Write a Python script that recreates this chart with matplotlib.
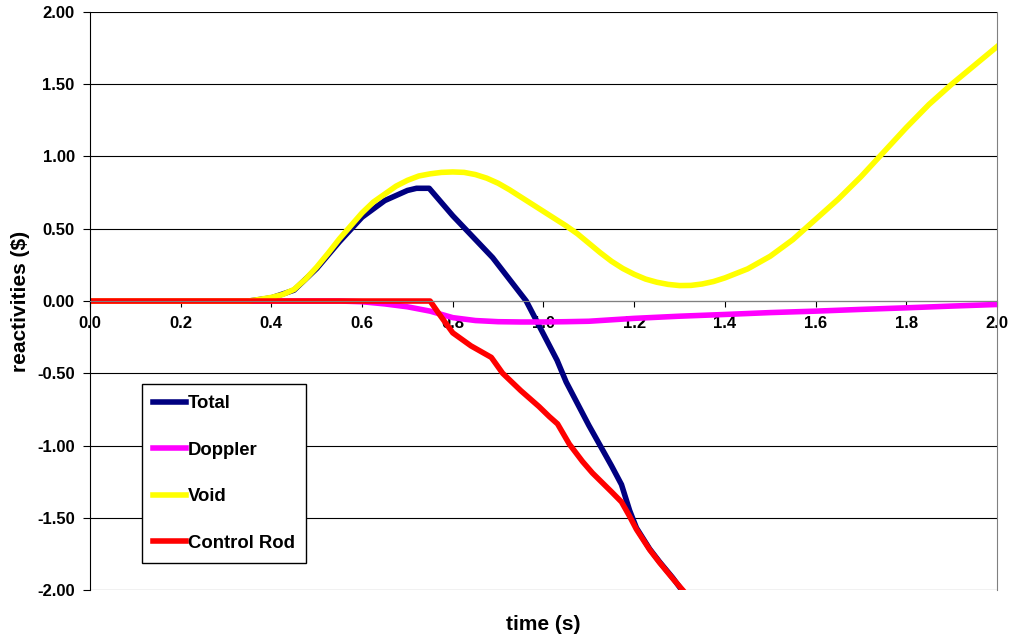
import matplotlib
matplotlib.use("Agg")
import matplotlib.pyplot as plt
from matplotlib.ticker import FormatStrFormatter

plt.rcParams['font.family'] = ['Liberation Sans', 'DejaVu Sans']
plt.rcParams['font.weight'] = 'bold'

######## data

# Void reactivity
t_void = [0.0, 0.35, 0.375, 0.4, 0.425, 0.45, 0.475, 0.5, 0.525, 0.55, 0.575,
          0.6, 0.625, 0.65, 0.675, 0.7, 0.725, 0.75, 0.775, 0.8, 0.825, 0.85,
          0.875, 0.9, 0.925, 0.95, 0.975, 1.0, 1.025, 1.05, 1.075, 1.1, 1.125,
          1.15, 1.175, 1.2, 1.225, 1.25, 1.275, 1.3, 1.325, 1.35, 1.375, 1.4,
          1.45, 1.5, 1.55, 1.6, 1.65, 1.7, 1.75, 1.8, 1.85, 1.9, 1.95, 2.0]
void = [0.0, 0.0, 0.012, 0.025, 0.045, 0.08, 0.15, 0.235, 0.33, 0.43, 0.52,
        0.61, 0.685, 0.74, 0.795, 0.835, 0.865, 0.88, 0.89, 0.893, 0.89, 0.875,
        0.85, 0.815, 0.77, 0.72, 0.67, 0.62, 0.57, 0.52, 0.465, 0.40, 0.335,
        0.275, 0.225, 0.185, 0.152, 0.13, 0.115, 0.107, 0.108, 0.118, 0.135, 0.16,
        0.222, 0.31, 0.425, 0.565, 0.705, 0.86, 1.03, 1.20, 1.36, 1.50, 1.63, 1.76]

# Doppler reactivity
t_doppler = [0.0, 0.55, 0.6, 0.65, 0.7, 0.75, 0.8, 0.85, 0.9, 0.95, 1.0, 1.05,
             1.1, 1.15, 1.2, 1.3, 1.4, 1.5, 1.6, 1.7, 1.8, 1.9, 2.0]
doppler = [0.0, 0.0, -0.005, -0.02, -0.04, -0.07, -0.115, -0.135, -0.143,
           -0.145, -0.145, -0.143, -0.14, -0.13, -0.12, -0.105, -0.093, -0.08,
           -0.07, -0.058, -0.047, -0.035, -0.024]

# Control rod reactivity
t_rod = [0.0, 0.75, 0.77, 0.80, 0.84, 0.885, 0.91, 0.95, 0.99, 1.013, 1.031,
         1.057, 1.086, 1.108, 1.15, 1.172, 1.19, 1.205, 1.234, 1.256, 1.285, 1.307]
rod = [0.0, 0.0, -0.09, -0.22, -0.31, -0.39, -0.50, -0.62, -0.73, -0.80, -0.85,
       -0.99, -1.11, -1.19, -1.32, -1.39, -1.49, -1.58, -1.72, -1.81, -1.92, -2.0]

# Total reactivity
t_total = [0.0, 0.35, 0.4, 0.45, 0.5, 0.55, 0.6, 0.65, 0.7, 0.72, 0.748, 0.8,
           0.888, 0.962, 1.03, 1.05, 1.10, 1.15, 1.172, 1.19, 1.205, 1.234,
           1.256, 1.285, 1.305]
total = [0.0, 0.0, 0.022, 0.075, 0.225, 0.41, 0.58, 0.695, 0.765, 0.78, 0.78,
         0.59, 0.30, 0.0, -0.41, -0.56, -0.86, -1.14, -1.27, -1.45, -1.57,
         -1.715, -1.805, -1.915, -2.0]

x_ticks = [0.0, 0.2, 0.4, 0.6, 0.8, 1.0, 1.2, 1.4, 1.6, 1.8, 2.0]
y_ticks = [-2.0, -1.5, -1.0, -0.5, 0.0, 0.5, 1.0, 1.5, 2.0]

######## figure

fig = plt.figure(figsize=(10.13, 6.4), dpi=100)
ax = fig.add_axes([0.0888, 0.078, 0.8954, 0.9033])

ax.plot(t_total, total, color="#000080", lw=4, label="Total")
ax.plot(t_doppler, doppler, color="#FF00FF", lw=4, label="Doppler")
ax.plot(t_void, void, color="#FFFF00", lw=4, label="Void")
ax.plot(t_rod, rod, color="#FF0000", lw=4, label="Control Rod")

ax.set_xlim(0, 2.0)
ax.set_ylim(-2.0, 2.0)
ax.set_xticks(x_ticks)
ax.set_yticks(y_ticks)
ax.xaxis.set_major_formatter(FormatStrFormatter("%.1f"))
ax.yaxis.set_major_formatter(FormatStrFormatter("%.2f"))

ax.yaxis.grid(True, color="black", lw=0.8)
ax.set_axisbelow(True)

ax.spines["bottom"].set_position(("data", 0))
ax.spines["bottom"].set_color("#808080")
ax.spines["top"].set_visible(False)
ax.spines["right"].set_color("#808080")
ax.spines["left"].set_color("black")

ax.tick_params(axis="x", direction="out", length=4, color="black",
               labelsize=12, pad=7)
ax.tick_params(axis="y", direction="out", length=5, labelsize=12, pad=6)

ax.set_xlabel("time (s)", fontsize=15, fontweight="bold")
ax.xaxis.set_label_coords(0.5, -0.043)
ax.set_ylabel("reactivities ($)", fontsize=15, fontweight="bold")
ax.yaxis.set_label_coords(-0.066, 0.5)

leg = ax.legend(loc="lower left", bbox_to_anchor=(0.057, 0.047),
                borderaxespad=0, fontsize=13.3, frameon=True, fancybox=False,
                edgecolor="black", framealpha=1, handlelength=1.8,
                handletextpad=0.1, labelspacing=1.6, borderpad=0.6)
leg.get_frame().set_linewidth(1)

plt.savefig("out.png", dpi=100)
